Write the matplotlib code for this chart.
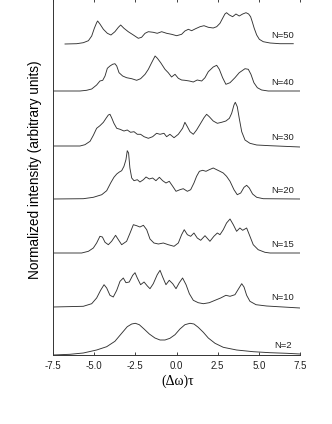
import matplotlib
matplotlib.use("Agg")
import matplotlib.pyplot as plt

# -----------------------------------------------------------------
# Digitised spectra: detuning (dw*tau) and intensity above baseline
# -----------------------------------------------------------------
n2_x = [-7.5, -6.47, -5.66, -4.85, -4.24, -3.74, -3.33, -2.99, -2.72, -2.5,
        -2.26, -1.97, -1.65, -1.31, -1.0, -0.70, -0.40, -0.09, 0.21, 0.51,
        0.82, 1.06, 1.32, 1.63, 1.93, 2.34, 2.84, 3.65, 4.66, 5.68, 6.69, 7.5]
n2_y = [0, 0.7, 2, 5, 8.3, 13.7, 21.7, 28.3, 31, 31.7,
        30.3, 26, 21, 17, 15, 15, 16.7, 20.3, 26, 30.3,
        31.7, 31, 27.7, 22.7, 17, 11.7, 7.7, 5, 3.3, 2.3, 1.7, 1]

n10_x = [-7.5, -5.66, -5.15, -4.85, -4.61, -4.40, -4.24, -4.04, -3.84, -3.63,
         -3.43, -3.23, -3.07, -2.87, -2.66, -2.52, -2.38, -2.18, -1.97, -1.77,
         -1.61, -1.41, -1.17, -1.0, -0.84, -0.64, -0.44, -0.23, -0.03, 0.17,
         0.37, 0.58, 0.78, 1.02, 1.32, 1.63, 1.99, 2.34, 2.68, 3.00,
         3.25, 3.55, 3.75, 3.96, 4.10, 4.26, 4.46, 4.83, 5.47, 6.48, 7.5]
n10_y = [0, 0.7, 3.3, 9, 16.7, 22.3, 19, 11.7, 10, 16.7,
         25.7, 29, 24.3, 25, 31.7, 34.3, 29, 22.3, 25, 21,
         18.3, 23.3, 32.3, 36.7, 30, 22.3, 26.7, 23.3, 18.3, 24.3,
         29, 22.3, 13.3, 6.7, 4.3, 3.3, 4.3, 6.7, 9, 11.7,
         10.7, 12.3, 17.7, 23.3, 20, 11.7, 5.7, 2.3, 1, 0, -1]

n15_x = [-7.5, -5.76, -5.35, -5.05, -4.85, -4.65, -4.50, -4.34, -4.14, -3.94,
         -3.70, -3.53, -3.33, -3.03, -2.82, -2.62, -2.42, -2.22, -2.01, -1.81,
         -1.61, -1.37, -1.10, -0.80, -0.50, -0.15, 0.11, 0.31, 0.47, 0.66,
         0.86, 1.06, 1.26, 1.47, 1.73, 2.03, 2.27, 2.48, 2.64, 2.84,
         3.04, 3.25, 3.45, 3.65, 3.85, 4.02, 4.26, 4.46, 4.66, 4.96,
         5.37, 5.68, 7.5]
n15_y = [0, 0, 1.7, 5, 10, 16.7, 16, 10.7, 8.3, 11.7,
         17.7, 13.3, 8.3, 11.7, 20, 28.3, 27.3, 26, 27.7, 23.3,
         14, 10, 9, 10, 8.3, 6.7, 10, 18.3, 23.3, 18.3,
         16.7, 20, 15, 12.7, 17.3, 11.7, 16.7, 20, 18.3, 23.3,
         30, 34, 28.3, 21.7, 25, 22.7, 25, 16.7, 8.3, 3.3,
         0.7, 0, 0]

n20_x = [-7.5, -5.66, -5.05, -4.54, -4.24, -4.0, -3.80, -3.63, -3.47, -3.33,
         -3.19, -3.07, -2.99, -2.91, -2.83, -2.72, -2.58, -2.38, -2.22, -2.01,
         -1.85, -1.65, -1.45, -1.25, -1.04, -0.84, -0.64, -0.44, -0.23, -0.03,
         0.21, 0.41, 0.66, 0.86, 1.06, 1.22, 1.39, 1.59, 1.79, 1.99,
         2.23, 2.44, 2.64, 2.84, 3.04, 3.25, 3.49, 3.69, 3.90, 4.10,
         4.26, 4.42, 4.62, 4.87, 5.27, 7.5]
n20_y = [0, 0.3, 1.7, 4.3, 8.3, 16, 21.7, 25, 27, 28.3,
         32.7, 39.3, 48.3, 46, 31, 21, 18.3, 19.3, 17, 19.3,
         22, 20, 21, 18.3, 21.7, 18.3, 16, 17.7, 12.7, 7.7,
         9.3, 10.3, 7.7, 9.3, 16, 22.7, 27.7, 28.7, 27.7, 29.3,
         31, 29.3, 27.7, 26, 22.7, 17.7, 9.3, 4.3, 6, 11.7,
         13.7, 11, 5, 1.7, 0.3, 0]

n30_x = [-7.5, -5.86, -5.56, -5.25, -5.05, -4.85, -4.65, -4.44, -4.28, -4.14,
         -4.04, -3.94, -3.80, -3.63, -3.43, -3.19, -2.99, -2.79, -2.58, -2.38,
         -2.18, -1.97, -1.71, -1.45, -1.21, -1.0, -0.76, -0.60, -0.40, -0.15,
         0.11, 0.37, 0.51, 0.66, 0.82, 1.02, 1.22, 1.43, 1.67, 1.83,
         1.99, 2.23, 2.48, 2.74, 3.00, 3.21, 3.35, 3.49, 3.57, 3.69,
         3.81, 3.96, 4.16, 4.46, 4.87, 5.68, 7.5]
n30_y = [0, 0, 1.3, 4.7, 10.7, 17.7, 20.3, 23.7, 27.7, 31,
         31.7, 28.3, 22.7, 17.7, 16.7, 15, 16, 13.7, 14.3, 11.7,
         11.7, 9.3, 7.7, 9.3, 12.7, 11.7, 12.7, 9.3, 11.7, 8.3,
         11.7, 17.7, 23.7, 19.3, 14.3, 11.7, 16, 21.7, 28.3, 31.7,
         29.3, 25, 22.7, 23.7, 25, 27.7, 32.7, 41, 43.7, 39.3,
         27.7, 14.3, 6, 2.7, 1, 0.3, -1]

n40_x = [-7.5, -5.86, -5.46, -5.15, -4.85, -4.65, -4.48, -4.34, -4.20, -4.04,
         -3.88, -3.74, -3.63, -3.49, -3.27, -3.03, -2.72, -2.42, -2.18, -1.91,
         -1.71, -1.51, -1.30, -1.16, -0.96, -0.70, -0.50, -0.30, -0.09, 0.11,
         0.31, 0.51, 0.78, 1.02, 1.26, 1.53, 1.73, 1.93, 2.23, 2.44,
         2.60, 2.80, 3.00, 3.25, 3.55, 3.81, 4.02, 4.16, 4.36, 4.52,
         4.70, 4.91, 5.17, 5.57, 7.5]
n40_y = [0, 0, 0.7, 2, 6, 10, 10.7, 15, 22.7, 25,
         26.7, 27.3, 25, 18.3, 15, 13.3, 12.3, 10.7, 12.3, 16.7,
         21.7, 28.3, 35, 32.7, 28.3, 21.7, 18.3, 14, 16.7, 12.7,
         11, 10.7, 10, 9, 11, 10, 13.3, 19.3, 24, 25.7,
         21.7, 13.3, 6.7, 8.3, 13.3, 18.3, 20.7, 22.3, 21.7, 16.7,
         8.3, 3.3, 1, 0, 0]

n50_x = [-6.77, -6.06, -5.66, -5.35, -5.15, -4.99, -4.85, -4.79, -4.65, -4.44,
         -4.20, -3.98, -3.74, -3.53, -3.39, -3.19, -2.93, -2.62, -2.32, -2.12,
         -1.91, -1.71, -1.41, -1.17, -0.90, -0.60, -0.30, 0.01, 0.31, 0.51,
         0.72, 0.92, 1.16, 1.43, 1.67, 1.93, 2.23, 2.44, 2.64, 2.80,
         2.94, 3.04, 3.21, 3.41, 3.61, 3.81, 4.02, 4.22, 4.38, 4.50,
         4.60, 4.72, 4.87, 5.03, 5.27, 5.68, 6.28, 7.09]
n50_y = [0, 0.3, 1.3, 3.3, 8, 15.7, 21.3, 23, 20, 14.7,
         10.7, 9, 12.3, 16.7, 19, 15.7, 12.3, 9, 5.7, 6.7,
         10.7, 12.3, 11.7, 10.7, 12.3, 10.7, 9.7, 8.3, 9.7, 13,
         14.7, 13.3, 15.3, 17.3, 18.3, 16.7, 16, 17.3, 20.7, 25.7,
         30, 31.3, 29, 27.3, 30, 28, 30, 31.3, 30, 27.3,
         22.3, 15.7, 9, 4.7, 2.3, 1, 0.3, 0.3]

series_x = [n2_x, n10_x, n15_x, n20_x, n30_x, n40_x, n50_x]
series_y = [n2_y, n10_y, n15_y, n20_y, n30_y, n40_y, n50_y]
labels = ["N=2", "N=10", "N=15", "N=20", "N=30", "N=40", "N=50"]
offsets = [0, 48, 102, 156, 209, 264, 311]
xticks = [-7.5, -5.0, -2.5, 0.0, 2.5, 5.0, 7.5]

plt.rcParams["axes.unicode_minus"] = False
plt.rcParams["font.family"] = ["Liberation Sans", "DejaVu Sans"]

fig = plt.figure(figsize=(3.32, 4.24), dpi=100)
ax = fig.add_axes([53 / 332, 69 / 424, 247 / 332, 356 / 424])

line_color = "#333333"
for xs, ys, off, lab in zip(series_x, series_y, offsets, labels):
    ax.plot(xs, [v + off for v in ys], color=line_color, linewidth=0.65)
    ax.text(6.45, off + 9, lab, fontsize=6.8, ha="center", va="center",
            color="#222222")

ax.set_xlim(-7.5, 7.5)
ax.set_ylim(0, 356)
ax.set_xticks(xticks)
ax.set_xticklabels([f"{t:.1f}" for t in xticks], fontsize=7)
ax.set_yticks([])
ax.tick_params(axis="x", direction="in", length=2, width=0.6, top=True,
               pad=4, colors="#222222")
ax.spines["top"].set_visible(False)
ax.spines["right"].set_visible(False)
for s in ["left", "bottom"]:
    ax.spines[s].set_linewidth(0.7)
    ax.spines[s].set_color("#333333")

ax.set_xlabel("(\u0394\u03c9)\u03c4", family=["Liberation Serif", "DejaVu Serif"],
              fontsize=10, va="center")
ax.xaxis.set_label_coords(0.506, -0.073)
ax.set_ylabel("Normalized intensity (arbitrary units)", fontsize=9.8,
              va="center")
ax.yaxis.set_label_coords(-0.073, 0.52)

fig.savefig("out.png", dpi=100)
plt.close(fig)
